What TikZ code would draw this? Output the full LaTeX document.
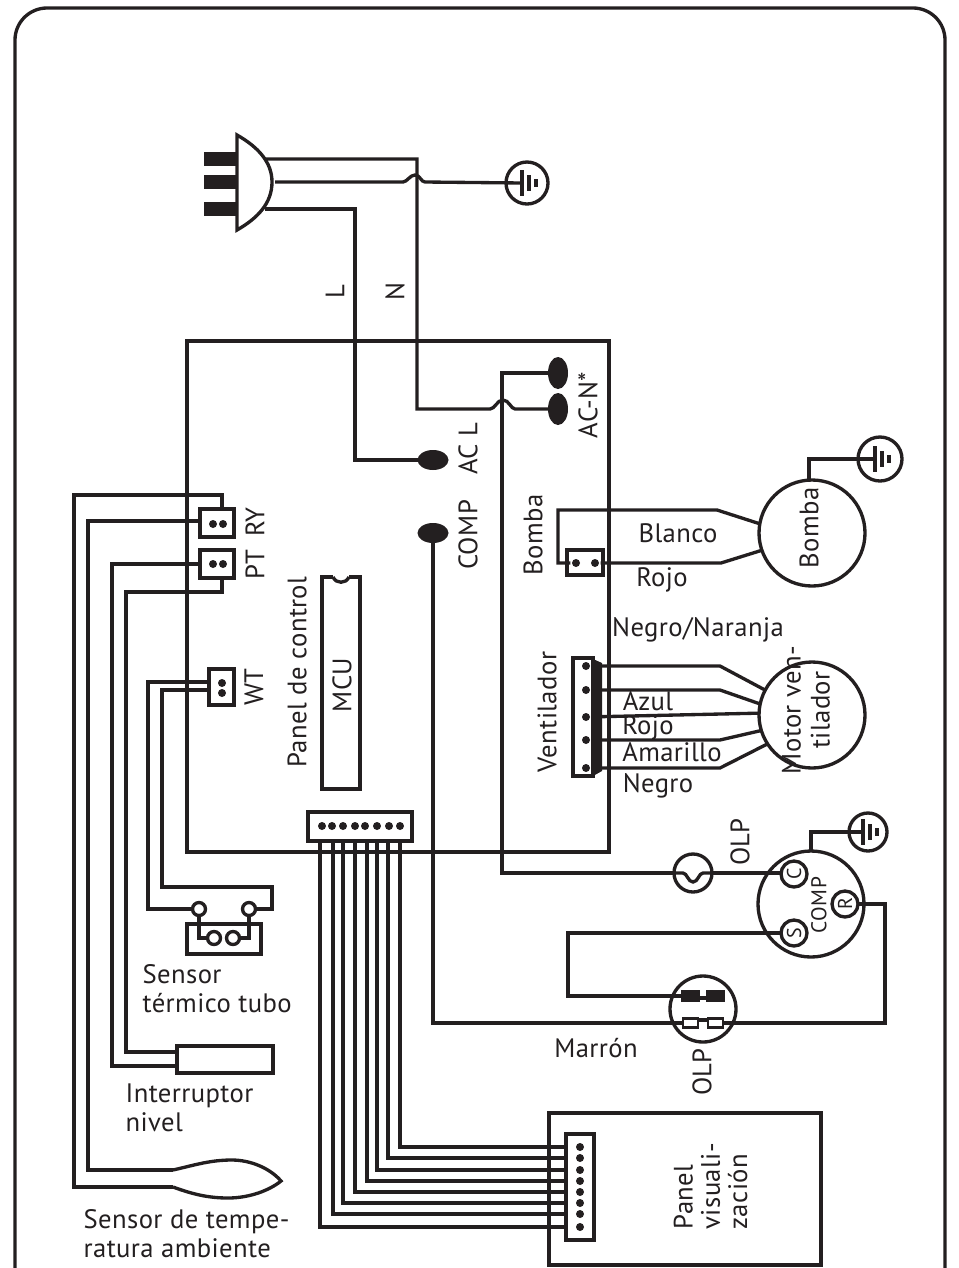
\documentclass[tikz,border=0pt]{standalone}
\usepackage{fontspec}
\setmainfont[LetterSpace=1.5]{PT Sans}
\usetikzlibrary{shapes.geometric,calc}
\definecolor{ink}{HTML}{231F20}

\tikzset{
  gnd/.pic={
    \coordinate (-in) at (-5,0);
    \draw (-5,-13) -- (-5,13);
    \draw (2,-8) -- (2,8);
    \draw (9,-4) -- (9,4);
  }
}

\begin{document}
\begin{tikzpicture}[x=0.75pt,y=-0.75pt,color=ink,line width=2.5pt,line join=miter,
  box/.style 2 args = {draw,rectangle,inner sep=0pt,outer sep=0pt,minimum width=#1*0.75pt,minimum height=#2*0.75pt},
  circ/.style = {draw,circle,inner sep=0pt,outer sep=0pt,minimum size=#1*1.5pt},
  lug/.style 2 args = {fill,ellipse,inner sep=0pt,outer sep=0pt,minimum width=#1*0.75pt,minimum height=#2*0.75pt},
  dot/.style = {fill,circle,inner sep=0pt,minimum size=6pt},
  lbl/.style = {inner sep=0pt,font=\fontsize{20}{21.75}\selectfont,align=left},
  vlbl/.style = {lbl,rotate=90},
  term/.style = {circ=13,fill=white,rotate=90,font=\fontsize{15}{15}\selectfont}]

\useasboundingbox (0,0) rectangle (959,1268);

% frame
\draw[rounded corners=24pt] (15,1290) -- (15,8) -- (945,8) -- (945,1290);

% plug
\node[box={31}{10},fill] (p1) at (221,159) {};
\node[box={31}{10},fill] (p2) at (221,182) {};
\node[box={31}{10},fill] (p3) at (221,209) {};
\draw (237,135) .. controls (258,147) and (272,162) .. (272,182) .. controls (272,203) and (258,218) .. (237,230) -- cycle;
\coordinate (pn) at (265,159);
\coordinate (pe) at (275,182);
\coordinate (pl) at (265,209);

% boards and parts
\node[box={422}{511}] (board) at (398,596.5) {};
\node[box={34}{28}] (ry) at (217,523) {};
\node[box={34}{28}] (pt) at (217,564) {};
\node[box={25}{36}] (wt) at (221.5,687) {};
\node[box={38}{212}] (mcu) at (341,683) {};
\node[box={104}{29}] (cn) at (360,826.5) {};
\node[box={36}{25}] (bc) at (585,562.5) {};
\node[box={20}{118}] (vc) at (583,717) {};
\node[box={272}{152},fill=white] (disp) at (685,1189) {};
\node[box={28}{106},fill=white] (dc) at (580,1187) {};
\node[box={96}{27}] (lvl) at (225,1059.5) {};
\node[box={74}{30}] (tube) at (224,939) {};

% notch of the MCU
\fill[white] (333,574) rectangle (349,579);
\draw (333,577) .. controls (336,584) and (346,584) .. (349,577);

% bar on the fan connector
\fill (593,659) -- (602,663) -- (602,771) -- (593,776) -- cycle;

% dots
\node[dot] (ry1) at (213,524) {};
\node[dot] (ry2) at (223,524) {};
\node[dot] (pt1) at (213,564) {};
\node[dot] (pt2) at (223,564) {};
\node[dot] (wt1) at (222,683) {};
\node[dot] (wt2) at (222,693) {};
\node[dot] (bc1) at (576,563) {};
\node[dot] (bc2) at (595,563) {};
\node[dot] (vc1) at (586,666) {};
\node[dot] (vc2) at (586,690) {};
\node[dot] (vc3) at (586,717) {};
\node[dot] (vc4) at (586,740) {};
\node[dot] (vc5) at (586,768) {};
\node[dot] (cn1) at (322,826) {};
\node[dot] (cn2) at (332,826) {};
\node[dot] (cn3) at (343,826) {};
\node[dot] (cn4) at (355,826) {};
\node[dot] (cn5) at (365,826) {};
\node[dot] (cn6) at (377,826) {};
\node[dot] (cn7) at (389,826) {};
\node[dot] (cn8) at (400,826) {};
\node[dot] (dc1) at (580,1147) {};
\node[dot] (dc2) at (580,1158) {};
\node[dot] (dc3) at (580,1170) {};
\node[dot] (dc4) at (580,1181) {};
\node[dot] (dc5) at (580,1192) {};
\node[dot] (dc6) at (580,1203) {};
\node[dot] (dc7) at (580,1214) {};
\node[dot] (dc8) at (580,1227) {};

% lugs
\node[lug={20}{32}] (lt) at (558,373) {};
\node[lug={20}{32}] (lb) at (558,409) {};
\node[lug={31}{20}] (acl) at (433,460) {};
\node[lug={31}{20}] (cmp) at (433,533) {};

% machines
\node[circ=53] (bm) at (812,533) {};
\node[circ=53] (mv) at (812,715) {};
\node[circ=53] (cp) at (811,904) {};
\node[circ=33] (ol) at (703,1009) {};
\node[circ=19] (oc) at (693,873) {};
\node[term] (tc) at (794,874) {C};
\node[term] (ts) at (794,933) {S};
\node[term] (tr) at (845,904) {R};
\node[circ=21] (ga) at (527,183) {};
\node[circ=22] (gb) at (880,459) {};
\node[circ=19] (gc) at (868,832) {};
\pic (ia) at (ga) {gnd};
\pic (ib) at (gb) {gnd};
\pic (ic) at (gc) {gnd};

% thermal contacts
\node[box={15}{9},fill] (o1) at (690.5,996) {};
\node[box={15}{9},fill] (o2) at (715.5,996) {};
\node[box={15}{9},fill=white,line width=2pt] (o3) at (690.5,1023) {};
\node[box={15}{9},fill=white,line width=2pt] (o4) at (715.5,1023) {};
\draw (o1.east) ++(0,2) -- (o2.west |- 0,998);
\draw (o3.east) ++(0,-3) -- (o4.west |- 0,1020);

% mains
\coordinate (j1a) at (403,182);
\coordinate (j1t) at (415,175);
\coordinate (j1b) at (425,182);
\coordinate (j2a) at (490,409);
\coordinate (j2t) at (503,400);
\coordinate (j2b) at (515,409);
\draw (pn) -| (417,409) -- (j2a) .. controls +(5,0) and +(-6,0) .. (j2t) .. controls +(6,0) and +(-4,0) .. (j2b) -- (lb.west);
\draw (pe) -- (j1a) .. controls +(4,0) and +(-5,0) .. (j1t) .. controls +(5,0) and +(-4,0) .. (j1b) -- (ia-in);
\draw (pl) -| (355,460) -- (acl.west);
\draw (lt.west) -| (502,873) -- (oc.west);

% compressor
\draw[shift={(oc.center)}] (-19,0) -- (-10,0) .. controls (-6,0) and (-5,9) .. (0,9) .. controls (5,9) and (6,0) .. (10,0) -- (19,0);
\draw (oc.east) -- (tc.north |- oc.east);
\draw (ts.north) -| (568,996) -- (o1.west);
\draw (cmp.south) |- (o3.west);
\draw (o4.east) -| (885,904) -- (tr.south);
\draw (cp.north) |- (ic-in);

% pump
\draw (bc1) -| (558,510) -- (717,510) -- (bm.170);
\draw (bc2) -- (721,563) -- (bm.199);
\draw (bm.north) ++(-3,0) |- (ib-in);

% fan
\draw (vc1) -- (720,666) -- (mv.152);
\draw (vc2) -- (720,690) -- (mv.168);
\draw (vc3) -- (mv.178);
\draw (vc4) -- (720,740) -- (mv.197);
\draw (vc5) -- (720,768) -- (mv.213);

% sensors
\coordinate (ryt) at (222,509);
\coordinate (ryl) at (200,521);
\coordinate (ptb) at (222,578);
\coordinate (wta) at (209,682);
\coordinate (wtb) at (209,690);
\coordinate (bu1) at (173,1170);
\coordinate (bu2) at (173,1187);
\draw (ryt) |- (74,495) |- (bu2);
\draw (ryl) -| (88,1170) -- (bu1);
\draw (pt.west) -| (112,1066) -- (177,1066);
\draw (ptb) |- (126,592) |- (177,1052);
\draw (bu1) .. controls (195,1165) and (210,1160) .. (232,1160) .. controls (250,1160) and (270,1168) .. (281,1181) .. controls (270,1190) and (250,1198) .. (228,1198) .. controls (208,1198) and (192,1194) .. (bu2);
\node[circ=6.5,fill=white] (tb1) at (199,909) {};
\node[circ=6.5,fill=white] (tb2) at (249,909) {};
\node[circ=6.5,fill=white] (tb3) at (214,938) {};
\node[circ=6.5,fill=white] (tb4) at (233,938) {};
\draw (wta) -| (148,909) -- (tb1.west);
\draw (wtb) -| (162,887) -| (272,909) -- (tb2.east);
\draw (tb1.south) |- (tb3.west);
\draw (tb2.south) |- (tb4.east);

% display cable
\draw (320,841) |- (dc.west |- dc8);
\draw (333,841) |- (dc.west |- dc7);
\draw (343,841) |- (dc.west |- dc6);
\draw (355,841) |- (dc.west |- dc5);
\draw (367,841) |- (dc.west |- dc4);
\draw (377,841) |- (dc.west |- dc3);
\draw (388,841) |- (dc.west |- dc2);
\draw (400,841) |- (dc.west |- dc1);

% labels
\node[vlbl] (tl) at (335,292) {L};
\node[vlbl] (tn) at (395,292) {N};
\node[vlbl] (tacl) at (468,449) {AC L};
\node[vlbl] (tacn) at (588,405) {AC-N*};
\node[vlbl] (tcmp) at (468,535) {COMP};
\node[vlbl] (try) at (255,522) {RY};
\node[vlbl] (tpt) at (255,565) {PT};
\node[vlbl] (twt) at (254,687) {WT};
\node[vlbl] (tpc) at (297,672) {Panel de control};
\node[vlbl] (tmcu) at (342,685) {MCU};
\node[vlbl] (tbo) at (533,535) {Bomba};
\node[vlbl] (tve) at (547,712) {Ventilador};
\node[vlbl] (tbm) at (809,528) {Bomba};
\node[vlbl,align=center] (tmv) at (806,710) {Motor ven-\\tilador};
\node[lbl] (tbl) at (678,533) {Blanco};
\node[lbl] (tro) at (662,580) {Rojo};
\node[lbl] (tnn) at (698,630) {Negro/Naranja};
\node[lbl] (taz) at (648,701) {Azul};
\node[lbl] (tr2) at (648,728) {Rojo};
\node[lbl] (tam) at (672,752) {Amarillo};
\node[lbl] (tne) at (658,786) {Negro};
\node[vlbl] (tol) at (740,842) {OLP};
\node[vlbl] (tol2) at (702,1072) {OLP};
\node[vlbl,font=\fontsize{16}{16}\selectfont] (tcp) at (819,905) {COMP};
\node[lbl] (tma) at (596,1048) {Marrón};
\node[lbl,anchor=north west] (tse) at (141,963) {Sensor\\térmico tubo};
\node[lbl,anchor=north west] (tin) at (124,1082) {Interruptor\\nivel};
\node[lbl,anchor=north west] (tst) at (82,1208) {Sensor de tempe-\\ratura ambiente};
\node[vlbl,anchor=north west,font=\fontsize{20}{20.5}\selectfont] (tpv) at (672,1231) {Panel\\visuali-\\zación};

\end{tikzpicture}
\end{document}
